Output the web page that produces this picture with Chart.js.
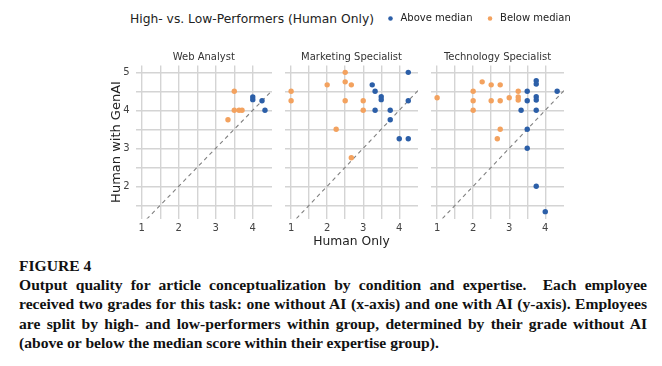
<!DOCTYPE html>
<html><head><meta charset="utf-8">
<script src="https://cdn.jsdelivr.net/npm/chart.js@4.4.1/dist/chart.umd.min.js"></script>
<style>
html,body{margin:0;padding:0;background:#fff;width:662px;height:366px;overflow:hidden;position:relative}
canvas{position:absolute}
#legtitle{position:absolute;left:130px;top:9px;font:12.3px 'DejaVu Sans',sans-serif;line-height:20px;color:#222;white-space:nowrap}
#caption{position:absolute;left:19px;top:256px;width:628px;font-family:'Liberation Serif','Times New Roman',serif;font-weight:bold;font-size:15.6px;line-height:19.2px;text-align:justify;color:#111}
</style></head><body>
<div id="legtitle">High- vs. Low-Performers (Human Only)</div>
<canvas id="c1" width="176" height="215" style="left:100px;top:40px"></canvas>
<canvas id="c2" width="141" height="215" style="left:281px;top:40px"></canvas>
<canvas id="c3" width="141" height="215" style="left:427px;top:40px"></canvas>
<canvas id="leg" width="289" height="80" style="left:373px;top:1px"></canvas>
<div id="caption"><div>FIGURE 4</div>Output quality for article conceptualization by condition and expertise.&nbsp; Each employee received two grades for this task: one without AI (x-axis) and one with AI (y-axis). Employees are split by high- and low-performers within group, determined by their grade without AI (above or below the median score within their expertise group).</div>
<script>
// ---- data ----
const PANELS = ['Web Analyst', 'Marketing Specialist', 'Technology Specialist'];
const SERIES = ['Above median', 'Below median'];
const X_TITLE = 'Human Only';
const Y_TITLE = 'Human with GenAI';
const X_TICKS = [1, 2, 3, 4];
const Y_TICKS = [2, 3, 4, 5];
const X_GRID = [1, 1.5, 2, 2.5, 3, 3.5, 4];
const Y_GRID = [1.5, 2, 2.5, 3, 3.5, 4, 4.5, 5];
const X_LIMITS = [0.83, 4.52];
const Y_LIMITS = [1.15, 5.18];
const REF_LINE = [0, 6];

const webAboveX = [4.0, 4.0, 4.25, 4.33];
const webAboveY = [4.35, 4.28, 4.25, 4.0];
const webBelowX = [3.5, 3.5, 3.63, 3.71, 3.33];
const webBelowY = [4.5, 4.0, 4.0, 4.0, 3.75];

const mktAboveX = [4.25, 3.25, 3.33, 3.5, 3.5, 3.33, 3.75, 3.75, 4.25, 4.0, 4.25];
const mktAboveY = [5.0, 4.67, 4.5, 4.36, 4.28, 4.0, 4.0, 3.75, 4.25, 3.25, 3.25];
const mktBelowX = [1.0, 1.0, 2.0, 2.5, 2.5, 2.67, 2.5, 2.25, 2.67, 3.0, 3.0];
const mktBelowY = [4.5, 4.25, 4.67, 5.0, 4.75, 4.67, 4.25, 3.5, 2.75, 4.25, 4.0];

const techAboveX = [3.5, 3.75, 3.75, 4.33, 3.5, 3.75, 3.75, 3.33, 3.75, 3.5, 3.5, 3.75, 4.0];
const techAboveY = [4.5, 4.78, 4.69, 4.5, 4.25, 4.36, 4.27, 4.0, 4.0, 3.5, 3.0, 2.0, 1.33];
const techBelowX = [1.0, 2.25, 2.5, 2.75, 2.0, 2.0, 2.0, 2.5, 2.75, 3.0, 2.75, 2.67, 3.25, 3.25, 3.25];
const techBelowY = [4.33, 4.75, 4.67, 4.67, 4.5, 4.25, 4.0, 4.25, 4.25, 4.33, 3.5, 3.25, 4.5, 4.35, 4.27];

// ---- style ----
const BLUE = '#2c5fa8';
const ORANGE = '#f3a25f';
const GRID = '#d4d4d4';

Chart.defaults.font.family = "'DejaVu Sans', sans-serif";

const pts = (xs, ys) => xs.map((x, i) => ({x: x, y: ys[i]}));

function panel(id, idx, ax, ay, bx, by) {
  const first = idx === 0;
  return new Chart(document.getElementById(id), {
    type: 'scatter',
    data: {datasets: [
      {label: SERIES[0], data: pts(ax, ay), backgroundColor: BLUE, pointRadius: 2.7, borderWidth: 0},
      {label: SERIES[1], data: pts(bx, by), backgroundColor: ORANGE, pointRadius: 2.7, borderWidth: 0},
      {label: 'y = x', data: REF_LINE.map(v => ({x: v, y: v})), showLine: true, borderColor: '#808080',
       borderWidth: 1.1, borderDash: [4, 3.5], pointRadius: 0, fill: false}
    ]},
    options: {
      responsive: false, animation: false, devicePixelRatio: 1, events: [],
      layout: {padding: 0},
      plugins: {
        legend: {display: false}, tooltip: {enabled: false},
        title: {display: true, text: PANELS[idx], fullSize: false, color: '#333',
                font: {size: 10, weight: 'normal'}, padding: {top: 11, bottom: 2.5}}
      },
      scales: {
        x: {type: 'linear', min: X_LIMITS[0], max: X_LIMITS[1],
            afterBuildTicks: s => { s.ticks = X_GRID.map(v => ({value: v})); },
            afterFit: s => { s.height = 36.5; },
            grid: {color: GRID, lineWidth: 1.4, drawTicks: false},
            border: {display: false},
            ticks: {padding: 4, font: {size: 10}, color: '#444', autoSkip: false, maxRotation: 0,
                    callback: v => X_TICKS.includes(v) ? String(v) : ''},
            title: {display: idx === 1, text: X_TITLE, color: '#222', font: {size: 12.3},
                    padding: {top: 0, bottom: 5.6}}},
        y: {type: 'linear', min: Y_LIMITS[0], max: Y_LIMITS[1],
            afterBuildTicks: s => { s.ticks = Y_GRID.map(v => ({value: v})); },
            afterFit: s => { s.width = first ? 35.5 : 0; },
            grid: {color: GRID, lineWidth: 1.4, drawTicks: false},
            border: {display: false},
            ticks: {display: first, padding: 6, font: {size: 10}, color: '#444', autoSkip: false,
                    callback: v => Y_TICKS.includes(v) ? String(v) : ''},
            title: {display: first, text: Y_TITLE, color: '#222', font: {size: 13},
                    padding: {top: 9.2, bottom: 0}}}
      }
    }
  });
}

panel('c1', 0, webAboveX, webAboveY, webBelowX, webBelowY);
panel('c2', 1, mktAboveX, mktAboveY, mktBelowX, mktBelowY);
panel('c3', 2, techAboveX, techAboveY, techBelowX, techBelowY);

new Chart(document.getElementById('leg'), {
  type: 'scatter',
  data: {datasets: [
    {label: SERIES[0], data: [], backgroundColor: BLUE, borderWidth: 0},
    {label: SERIES[1], data: [], backgroundColor: ORANGE, borderWidth: 0}
  ]},
  options: {
    responsive: false, animation: false, devicePixelRatio: 1, events: [],
    layout: {padding: 0},
    scales: {x: {display: false}, y: {display: false}},
    plugins: {
      tooltip: {enabled: false},
      legend: {display: true, position: 'top', align: 'start', maxHeight: 70,
        labels: {usePointStyle: true, pointStyle: 'circle', boxWidth: 10, boxHeight: 3.2,
                 padding: 12.5, font: {size: 10}, color: '#222'}}
    }
  }
});
</script>
</body></html>
